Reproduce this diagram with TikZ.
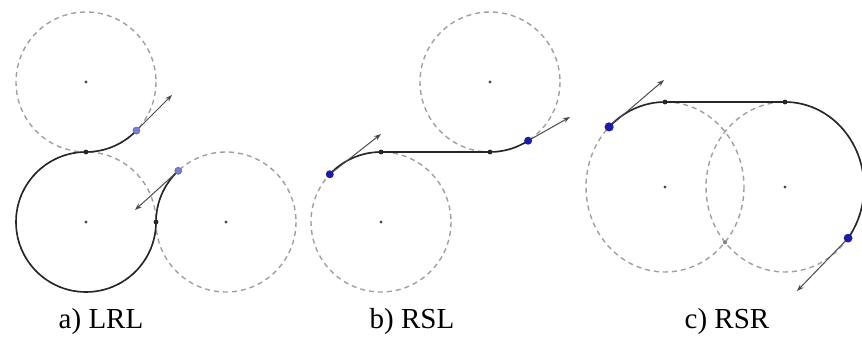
\documentclass[tikz,border=0pt]{standalone}
\usepackage{fontspec}
\setmainfont{Liberation Serif}
\usetikzlibrary{arrows.meta,calc}
\definecolor{circgray}{HTML}{A0A0A0}
\definecolor{lightblue}{HTML}{7C7CD8}
\definecolor{darkblue}{HTML}{1C1CA8}
\tikzset{
  guide/.style={draw=circgray, line width=1.4pt, dash pattern=on 5pt off 4pt},
  pathline/.style={draw=black!85, line width=1.6pt},
  heading/.style={draw=black!70, line width=1pt, -{Stealth[length=7pt,width=5pt]}},
  cdot/.style={fill=black!70},
  tdot/.style={fill=black!85},
  qdotA/.style={fill=lightblue, draw=lightblue!70!black, line width=0.4pt},
  qdotB/.style={fill=darkblue},
  caption/.style={font=\fontsize{29}{34}\selectfont, inner sep=0pt}
}
\begin{document}
\begin{tikzpicture}[x=1pt,y=-1pt]
\useasboundingbox (0,0) rectangle (862,345);
% ---------------- a) LRL ----------------
\coordinate (a1) at (86,82);
\coordinate (a2) at (86,222);
\coordinate (a3) at (226,222);
\draw[guide] (a1) circle[radius=70];
\draw[guide] (a2) circle[radius=70];
\draw[guide] (a3) circle[radius=70];
\coordinate (aS) at ($(a1)+(44:70)$);
\coordinate (aT1) at (86,152);
\coordinate (aT2) at (156,222);
\coordinate (aE) at ($(a3)+(227:70)$);
\coordinate (aSh) at (172,95);
\coordinate (aEh) at (135,210);
\draw[pathline] (aS) arc[start angle=44,end angle=90,radius=70]
  arc[start angle=270,end angle=0,radius=70]
  arc[start angle=180,end angle=227,radius=70];
\draw[heading] (aS) -- (aSh);
\draw[heading] (aE) -- (aEh);
\fill[cdot] (a1) circle[radius=1.6];
\fill[cdot] (a2) circle[radius=1.6];
\fill[cdot] (a3) circle[radius=1.6];
\fill[tdot] (aT1) circle[radius=2.4];
\fill[tdot] (aT2) circle[radius=2.4];
\filldraw[qdotA] (aS) circle[radius=3.6];
\filldraw[qdotA] (aE) circle[radius=3.6];
\node[caption] (la) at (101,322) {a) LRL};
% ---------------- b) RSL ----------------
\coordinate (b1) at (381,222);
\coordinate (b2) at (490,82);
\draw[guide] (b1) circle[radius=70];
\draw[guide] (b2) circle[radius=70];
\coordinate (bS) at ($(b1)+(223:70)$);
\coordinate (bT1) at (381,152);
\coordinate (bT2) at (490,152);
\coordinate (bE) at ($(b2)+(57:70)$);
\coordinate (bSh) at (381,134);
\coordinate (bEh) at (570,117);
\draw[pathline] (bS) arc[start angle=223,end angle=270,radius=70]
  -- (bT2) arc[start angle=90,end angle=57,radius=70];
\draw[heading] (bS) -- (bSh);
\draw[heading] (bE) -- (bEh);
\fill[cdot] (b1) circle[radius=1.6];
\fill[cdot] (b2) circle[radius=1.6];
\fill[tdot] (bT1) circle[radius=2.4];
\fill[tdot] (bT2) circle[radius=2.4];
\fill[qdotB] (bS) circle[radius=4];
\fill[qdotB] (bE) circle[radius=4];
\node[caption] (lb) at (412,322) {b) RSL};
% ---------------- c) RSR ----------------
\coordinate (c1) at (665,187);
\coordinate (c2) at (785,187);
\draw[guide] (c1) ellipse[x radius=79,y radius=85];
\draw[guide] (c2) ellipse[x radius=79,y radius=85];
\coordinate (cS) at ($(c1)+(225:79 and 85)$);
\coordinate (cT1) at (665,102);
\coordinate (cT2) at (785,102);
\coordinate (cE) at ($(c2)+(37:79 and 85)$);
\coordinate (cX) at (725,242.3);
\coordinate (cSh) at (664,80);
\coordinate (cEh) at (797,291);
\draw[pathline] (cS) arc[start angle=225,end angle=270,x radius=79,y radius=85]
  -- (cT2) arc[start angle=270,end angle=397,x radius=79,y radius=85];
\draw[heading] (cS) -- (cSh);
\draw[heading] (cE) -- (cEh);
\fill[cdot] (c1) circle[radius=1.6];
\fill[cdot] (c2) circle[radius=1.6];
\fill[circgray!80!black] (cX) circle[radius=2];
\fill[tdot] (cT1) circle[radius=2.4];
\fill[tdot] (cT2) circle[radius=2.4];
\fill[qdotB] (cS) circle[radius=4.6];
\fill[qdotB] (cE) circle[radius=4.4];
\node[caption] (lc) at (727,322) {c) RSR};
\end{tikzpicture}
\end{document}
